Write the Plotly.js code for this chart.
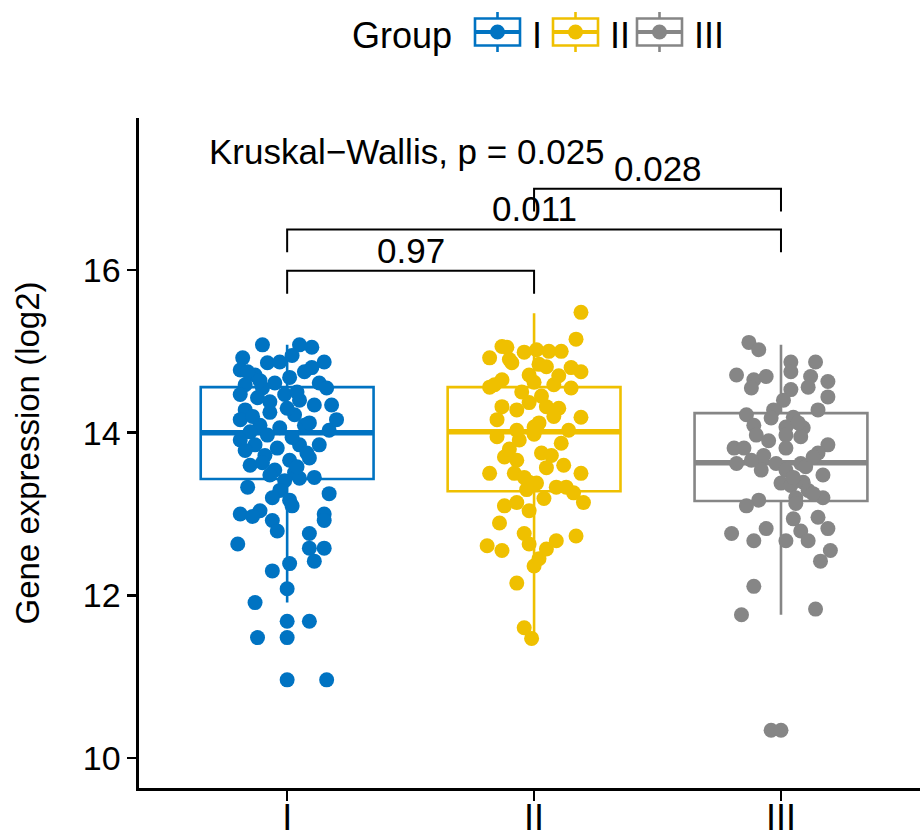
<!DOCTYPE html>
<html>
<head>
<meta charset="utf-8">
<script src="https://cdn.plot.ly/plotly-3.0.1.min.js"></script>
<style>
  html, body { margin: 0; padding: 0; background: #fff; }
  #chart { width: 920px; height: 837px; }
</style>
</head>
<body>
<div id="chart"></div>
<script>
// Groups and their colours
const groups = ["I", "II", "III"];
const groupColors = ["#0073C2", "#EFC000", "#868686"];

// Box summary statistics per group
const boxQ1 = [13.43, 13.28, 13.16];
const boxMedian = [14.00, 14.01, 13.63];
const boxQ3 = [14.56, 14.56, 14.24];
const boxLower = [11.91, 11.47, 11.76];
const boxUpper = [15.08, 15.47, 15.08];

// Individual samples (log2 expression) and their horizontal jitter
const valuesI = [15.08,15.08,15.05,14.92,14.87,14.77,14.86,14.87,14.75,14.71,
  14.68,14.61,14.55,14.59,14.55,14.61,14.47,14.43,14.47,14.40,
  14.34,14.28,14.25,14.22,14.16,14.09,14.16,14.03,14.09,14.06,
  14.01,13.91,13.85,13.81,13.85,13.85,13.72,13.66,13.69,13.54,
  13.51,13.45,13.60,13.41,13.44,13.33,13.25,13.29,13.17,13.00,
  13.04,12.92,13.00,12.92,12.63,12.79,12.76,12.58,12.58,12.42,
  12.30,12.39,12.08,11.91,11.68,11.68,11.48,11.48,10.96,10.96,
  14.75,14.64,14.50,14.38,14.30,14.20,14.12,13.97,13.94,13.78,
  13.75,13.63,13.58,13.48,14.95,14.80,13.20,13.10,12.97,14.34];
const jitterI = [-0.10,0.05,0.10,-0.18,0.15,-0.19,-0.08,-0.03,0.07,-0.13,
  0.01,0.13,0.16,-0.17,-0.10,-0.05,-0.19,-0.12,-0.01,0.05,
  0.11,-0.17,-0.07,0.03,-0.19,-0.11,0.20,0.17,0.07,-0.03,
  -0.15,-0.19,-0.13,-0.04,0.05,0.13,-0.09,0.01,0.09,-0.05,
  0.03,0.11,-0.15,-0.01,0.05,-0.16,0.17,-0.03,0.01,-0.19,
  -0.11,-0.06,0.15,0.15,-0.20,-0.04,0.09,0.09,0.15,0.11,
  -0.06,0.01,0.00,-0.13,0.00,0.09,-0.12,0.00,0.00,0.16,
  -0.16,-0.11,0.04,-0.07,0.00,-0.14,0.09,-0.08,0.02,-0.17,
  0.08,-0.10,0.04,-0.07,0.02,0.10,-0.06,0.02,-0.14,0.18];

const valuesII = [15.48,15.15,15.06,14.92,14.86,14.99,15.02,15.00,15.00,14.84,
  14.81,14.80,14.75,14.65,14.71,14.56,14.59,14.59,14.55,14.32,
  14.28,14.37,14.32,14.30,14.16,14.19,14.03,14.07,14.12,13.95,
  13.91,14.03,13.87,13.70,13.75,13.72,13.57,13.66,13.50,13.50,
  13.50,13.45,13.39,13.38,13.19,13.33,13.33,13.26,13.14,13.10,
  13.14,13.04,12.89,12.73,12.76,12.63,12.67,12.57,12.61,12.55,
  12.36,12.45,12.15,11.60,11.47,
  14.90,14.70,14.50,14.45,14.20,13.98,13.80,13.60,13.30,14.62,15.05];
const jitterII = [0.19,0.17,-0.13,-0.18,-0.09,-0.04,0.01,0.06,0.11,0.02,
  0.05,0.15,0.19,-0.13,-0.02,-0.18,-0.16,0.08,0.15,-0.13,
  -0.07,-0.02,0.05,0.10,-0.15,0.19,-0.07,0.00,0.02,-0.15,
  -0.06,0.14,0.11,-0.12,0.03,0.07,0.05,-0.07,-0.18,0.19,
  -0.08,-0.04,-0.02,0.01,0.04,0.09,0.13,0.16,0.20,-0.12,
  -0.07,-0.02,-0.14,0.17,-0.04,-0.02,0.09,0.05,-0.19,-0.13,
  0.00,0.02,-0.07,-0.04,-0.01,
  -0.10,0.10,-0.05,0.03,0.08,0.00,-0.10,0.12,-0.03,0.00,-0.11];

const valuesIII = [15.11,15.02,14.87,14.87,14.71,14.65,14.69,14.75,14.69,14.56,
  14.63,14.44,14.55,14.53,14.40,14.28,14.28,14.22,14.19,14.18,
  14.09,14.07,14.06,13.97,13.97,13.95,13.81,13.81,13.81,13.85,
  13.75,13.62,13.72,13.62,13.62,13.54,13.54,13.48,13.38,13.35,
  13.39,13.29,13.20,13.20,13.17,13.10,13.13,12.94,12.96,12.82,
  12.79,12.67,12.76,12.67,12.82,12.67,12.55,12.42,12.11,11.76,
  11.83,10.34,10.34,
  13.66,13.58,13.45,13.70,14.12,13.90,13.25];
const jitterIII = [-0.13,-0.09,0.14,0.04,-0.18,-0.11,-0.06,0.04,0.12,0.11,
  0.19,0.19,-0.12,0.04,0.01,-0.03,0.15,-0.14,0.05,-0.04,
  -0.11,0.02,0.09,-0.10,0.02,0.08,0.02,-0.19,-0.15,0.19,
  0.15,-0.18,-0.07,-0.02,0.08,-0.08,0.02,0.17,0.00,0.04,
  0.09,0.11,0.06,0.17,-0.09,-0.14,0.06,0.05,0.15,0.19,
  0.08,0.11,-0.20,-0.11,-0.06,0.02,0.20,0.16,-0.11,-0.16,
  0.14,-0.04,0.00,
  -0.12,0.10,0.05,0.13,0.07,-0.05,0.13];

// Pairwise comparisons (Wilcoxon p-values) and the overall test
const comparisons = [[0, 1], [0, 2], [1, 2]];
const comparisonP = ["0.97", "0.011", "0.028"];
const bracketY = [15.99, 16.50, 17.00];
const overallTest = "Kruskal\u2212Wallis, p = 0.025";

const yTicks = [10, 12, 14, 16];

const sampleValues = [valuesI, valuesII, valuesIII];
const sampleJitter = [jitterI, jitterII, jitterIII];

const FONT = "Liberation Sans, Arial, Helvetica, sans-serif";
const W = 920, H = 837;
const M = { l: 139, r: 0, t: 118, b: 49 };
const BOX_W = 0.7;
const traces = [];

// Boxes (no whisker caps)
groups.forEach((g, i) => {
  traces.push({
    type: "box",
    name: g,
    x: [i],
    q1: [boxQ1[i]],
    median: [boxMedian[i]],
    q3: [boxQ3[i]],
    lowerfence: [boxLower[i]],
    upperfence: [boxUpper[i]],
    width: BOX_W,
    whiskerwidth: 0,
    boxpoints: false,
    fillcolor: "rgba(255,255,255,0)",
    line: { color: groupColors[i], width: 2.6 },
    hoverinfo: "skip",
    showlegend: false
  });
});

// Thicker median bars
groups.forEach((g, i) => {
  traces.push({
    type: "scatter",
    mode: "lines",
    x: [i - BOX_W / 2, i + BOX_W / 2],
    y: [boxMedian[i], boxMedian[i]],
    line: { color: groupColors[i], width: 5.5 },
    hoverinfo: "skip",
    showlegend: false
  });
});

// Jittered samples
groups.forEach((g, i) => {
  traces.push({
    type: "scatter",
    mode: "markers",
    name: g,
    x: sampleJitter[i].map(d => i + d),
    y: sampleValues[i],
    marker: { color: groupColors[i], size: 15, line: { width: 0 } },
    hoverinfo: "y",
    showlegend: false
  });
});

// Significance brackets
const TIP = 0.28;
const shapes = comparisons.map((c, k) => ({
  type: "path",
  xref: "x", yref: "y",
  path: `M ${c[0]},${bracketY[k] - TIP} L ${c[0]},${bracketY[k]} L ${c[1]},${bracketY[k]} L ${c[1]},${bracketY[k] - TIP}`,
  line: { color: "#000", width: 2 }
}));

const annotations = comparisons.map((c, k) => ({
  xref: "x", yref: "y",
  x: (c[0] + c[1]) / 2,
  y: bracketY[k],
  text: comparisonP[k],
  showarrow: false,
  xanchor: "center",
  yanchor: "bottom",
  yshift: -1,
  font: { family: FONT, size: 35, color: "#000" }
}));
annotations.push({
  xref: "x", yref: "y",
  x: -0.324, y: 17.46,
  text: overallTest,
  showarrow: false,
  xanchor: "left", yanchor: "middle",
  font: { family: FONT, size: 35, color: "#000" }
});

// Legend drawn as boxplot glyphs above the panel (pixel layout -> paper coords)
const pw = W - M.l - M.r, ph = H - M.t - M.b;
const px = v => (v - M.l) / pw;
const py = v => (H - M.b - v) / ph;
const legendY = 32;              // vertical centre of the legend row
const legendIconLeft = [475, 553, 637];
const ICON_W = 45, BOX_HALF = 13.5, WHISK = 20, DOT_R = 7.5;
annotations.push({
  xref: "paper", yref: "paper",
  x: px(454), y: py(legendY + 4),
  text: "Group",
  showarrow: false, xanchor: "right", yanchor: "middle",
  font: { family: FONT, size: 36, color: "#000" }
});
groups.forEach((g, i) => {
  const x0 = legendIconLeft[i], x1 = x0 + ICON_W, xc = x0 + ICON_W / 2;
  const line = { color: groupColors[i], width: 2.6 };
  shapes.push({ type: "rect", xref: "paper", yref: "paper",
    x0: px(x0), x1: px(x1), y0: py(legendY - BOX_HALF), y1: py(legendY + BOX_HALF), line });
  shapes.push({ type: "line", xref: "paper", yref: "paper",
    x0: px(xc), x1: px(xc), y0: py(legendY - WHISK), y1: py(legendY - BOX_HALF), line });
  shapes.push({ type: "line", xref: "paper", yref: "paper",
    x0: px(xc), x1: px(xc), y0: py(legendY + BOX_HALF), y1: py(legendY + WHISK), line });
  shapes.push({ type: "line", xref: "paper", yref: "paper",
    x0: px(x0), x1: px(x1), y0: py(legendY), y1: py(legendY),
    line: { color: groupColors[i], width: 4 } });
  shapes.push({ type: "circle", xref: "paper", yref: "paper",
    x0: px(xc - DOT_R), x1: px(xc + DOT_R), y0: py(legendY - DOT_R), y1: py(legendY + DOT_R),
    fillcolor: groupColors[i], line: { color: groupColors[i], width: 0 } });
  annotations.push({
    xref: "paper", yref: "paper",
    x: px(x1 + 10), y: py(legendY + 4),
    text: g,
    showarrow: false, xanchor: "left", yanchor: "middle",
    font: { family: FONT, size: 36, color: "#000" }
  });
});

const layout = {
  width: W,
  height: H,
  margin: M,
  paper_bgcolor: "#fff",
  plot_bgcolor: "#fff",
  font: { family: FONT, color: "#000" },
  showlegend: false,
  xaxis: {
    range: [-0.6, 2.563],
    tickvals: [0, 1, 2],
    ticktext: groups,
    showgrid: false,
    zeroline: false,
    showline: true,
    linecolor: "#000",
    linewidth: 2.6,
    ticks: "outside",
    ticklen: 10,
    tickwidth: 2.6,
    tickcolor: "#000",
    tickfont: { family: FONT, size: 36 },
    ticklabelstandoff: -14,
    automargin: false,
    fixedrange: true
  },
  yaxis: {
    range: [9.63, 17.87],
    tickvals: yTicks,
    showgrid: false,
    zeroline: false,
    showline: true,
    linecolor: "#000",
    linewidth: 2.6,
    ticks: "outside",
    ticklen: 9,
    tickwidth: 2.6,
    tickcolor: "#000",
    tickfont: { family: FONT, size: 34 },
    title: { text: "Gene expression (log2)", font: { family: FONT, size: 33 }, standoff: 34 },
    automargin: false,
    fixedrange: true
  },
  shapes: shapes,
  annotations: annotations
};

Plotly.newPlot("chart", traces, layout, { displayModeBar: false, staticPlot: true });
</script>
</body>
</html>
